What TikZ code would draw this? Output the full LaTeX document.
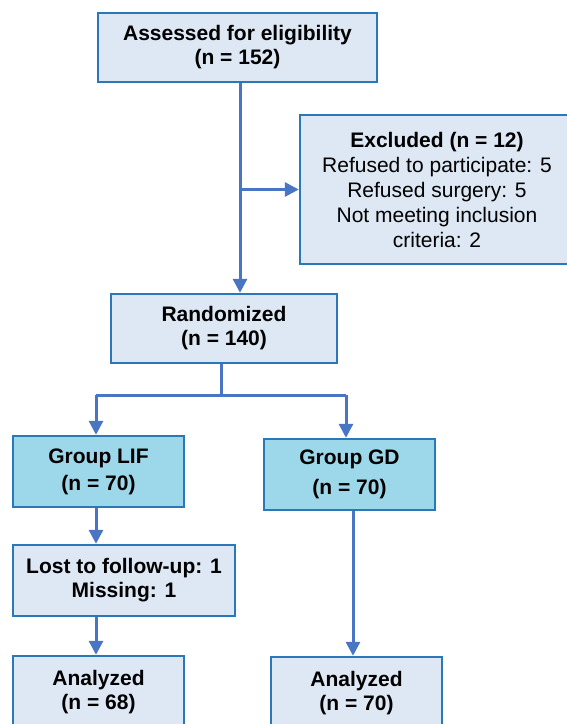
\documentclass[tikz,border=0pt]{standalone}
\usepackage{fontspec}
\setmainfont{Liberation Sans}
\usetikzlibrary{arrows.meta,calc}
\definecolor{boxfill}{HTML}{DDE8F4}
\definecolor{grpfill}{HTML}{9DD8EA}
\definecolor{boxline}{HTML}{2A78B8}
\definecolor{arr}{HTML}{4A74C4}
\tikzset{
  box/.style={draw=boxline, line width=2.4pt, fill=boxfill, rectangle, inner sep=0pt, align=center, font=\fontsize{21}{24}\selectfont\bfseries},
  grp/.style={box, fill=grpfill},
  conn/.style={draw=arr, line width=3pt},
  arrow/.style={conn, -{Triangle[width=14pt,length=14pt]}},
}
\begin{document}
\begin{tikzpicture}[x=1pt,y=-1pt]
\useasboundingbox[fill=white] (0,0) rectangle (567,724);
\node[box, minimum width=279pt, minimum height=69pt] (A) at (237.5,47.5) {Assessed for eligibility\\(n = 152)};
\node[box, minimum width=274pt, minimum height=149pt, font=\fontsize{21}{25}\selectfont] (E) at (437,189.5) {\textbf{Excluded (n = 12)}\\Refused to participate: 5\\Refused surgery: 5\\Not meeting inclusion\\criteria: 2};
\node[box, minimum width=226pt, minimum height=69pt] (R) at (224,328.5) {Randomized\\(n = 140)};
\node[grp, minimum width=171pt, minimum height=71pt, font=\fontsize{21}{27}\selectfont\bfseries] (L) at (98.5,471.5) {Group LIF\\(n = 70)};
\node[grp, minimum width=171pt, minimum height=71pt, font=\fontsize{21}{30}\selectfont\bfseries] (G) at (349.5,474.5) {Group GD\\(n = 70)};
\node[box, minimum width=222pt, minimum height=71pt] (M) at (124,580.5) {Lost to follow-up: 1\\Missing: 1};
\node[box, minimum width=171pt, minimum height=72pt] (AL) at (98.5,692) {Analyzed\\(n = 68)};
\node[box, minimum width=171pt, minimum height=72pt] (AR) at (356.5,693) {Analyzed\\(n = 70)};
% connectors
\coordinate (a1) at ($(A.south)+(2.5,0)$);
\coordinate (r1) at (a1 |- R.north);
\coordinate (ej) at (a1 |- E.west);
\draw[arrow] (a1) -- (r1);
\draw[arrow] (ej) -- (E.west);
\coordinate (rb) at ($(R.south)+(-3,0)$);
\coordinate (bj) at (rb |- 0,395);
\coordinate (bl) at (96,395);
\coordinate (br) at (346,395);
\draw[conn] (rb) -- (bj);
\draw[conn] (bl) -- (br);
\draw[arrow] (bl) -- (bl |- L.north);
\draw[arrow] (br) -- (br |- G.north);
\coordinate (l1) at (96,0);
\draw[arrow] (l1 |- L.south) -- (l1 |- M.north);
\draw[arrow] (l1 |- M.south) -- (l1 |- AL.north);
\coordinate (g1) at (353,0);
\draw[arrow] (g1 |- G.south) -- (g1 |- AR.north);
\end{tikzpicture}
\end{document}
